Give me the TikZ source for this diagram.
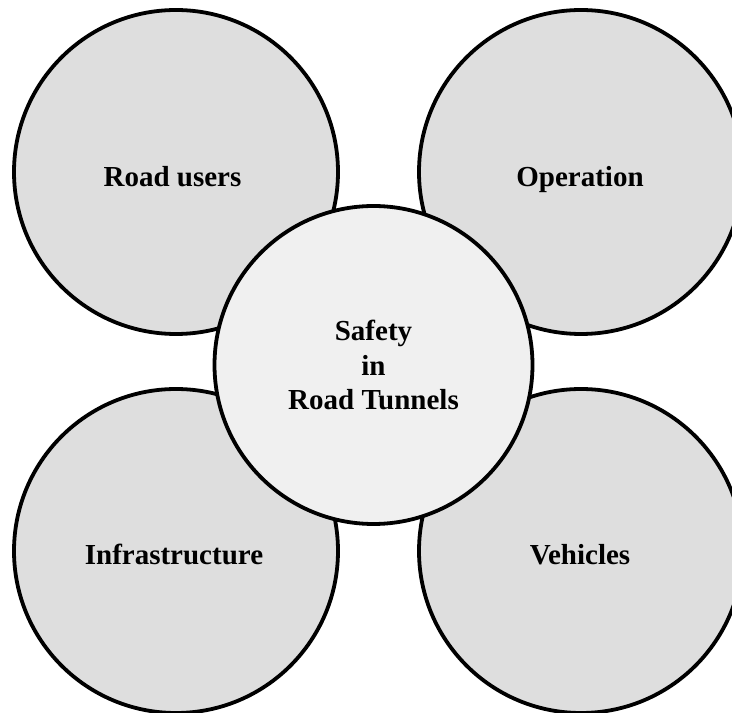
\documentclass[tikz,border=0pt]{standalone}
\usepackage{fontspec}
\setmainfont{Liberation Serif}
\definecolor{outerfill}{HTML}{DEDEDE}
\definecolor{innerfill}{HTML}{F0F0F0}
\begin{document}
\begin{tikzpicture}[x=1pt,y=1pt,
  outercirc/.style={circle, draw=black, line width=3.8pt, fill=outerfill, minimum size=324pt, inner sep=0pt},
  innercirc/.style={circle, draw=black, line width=3.8pt, fill=innerfill, minimum size=318pt, inner sep=0pt},
  lbl/.style={font=\fontsize{29}{34.5}\selectfont\bfseries, anchor=base, inner sep=0pt}]
\useasboundingbox (0,0) rectangle (732,713);
\clip (0,0) rectangle (732,713);
\node[outercirc] (tl) at (176,541) {};
\node[outercirc] (tr) at (581,541) {};
\node[outercirc] (bl) at (176,162) {};
\node[outercirc] (br) at (581,162) {};
\node[innercirc, align=center, font=\fontsize{29}{34.5}\selectfont\bfseries] (c) at (373.5,348) {Safety\\in\\Road Tunnels};
\node[lbl] (tltext) at (172.5,526) {Road users};
\node[lbl] (trtext) at (580,526) {Operation};
\node[lbl] (bltext) at (174,148) {Infrastructure};
\node[lbl] (brtext) at (580,148) {Vehicles};
\end{tikzpicture}
\end{document}
